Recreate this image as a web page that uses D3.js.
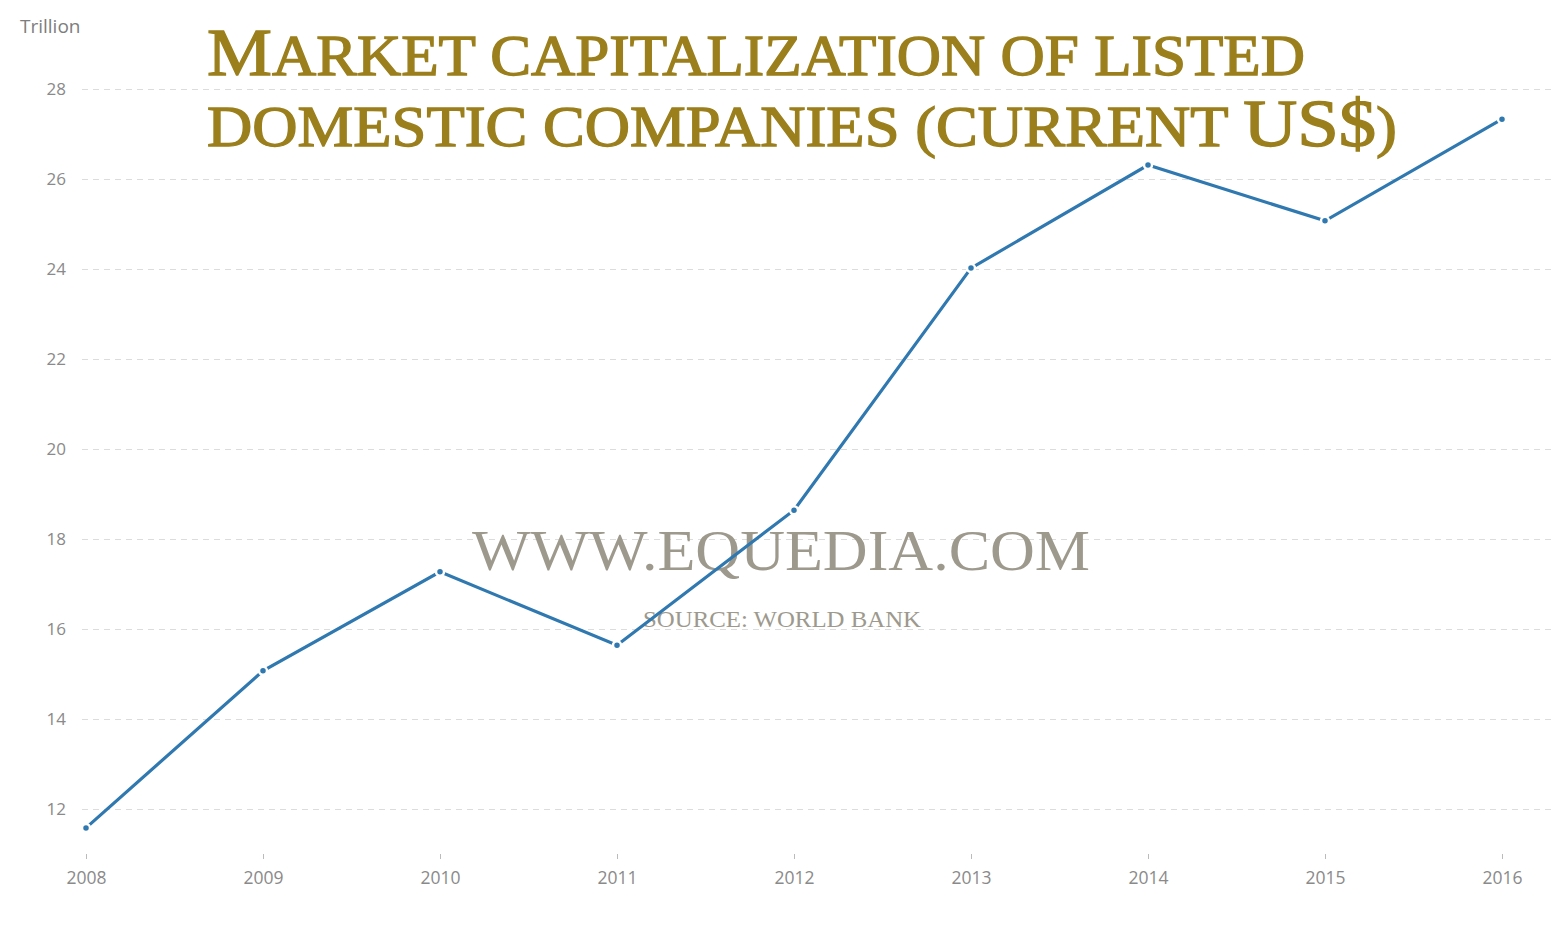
<!DOCTYPE html>
<html lang="en">
<head>
    <meta charset="UTF-8">
    <title>Market capitalization of listed domestic companies</title>
    <script src="https://cdn.jsdelivr.net/npm/d3@7"></script>
    <style>
        body{ margin:0; background:#fff; }
        .tick text{ font-family:"Open Sans", sans-serif; fill:#8a8a8a; }
    </style>
</head>
<body>
<script type="text/javascript">

    // data
    var years = ["2008","2009","2010","2011","2012","2013","2014","2015","2016"];
    var values = [11.58, 15.07, 17.27, 15.64, 18.64, 24.02, 26.31, 25.07, 27.33];
    var yTicks = [12, 14, 16, 18, 20, 22, 24, 26, 28];
    var titleLines = ["Market capitalization of listed", "domestic companies (current US$)"];

    var w = 1566, h = 930;

    var svg = d3.select("body").append("svg")
        .attr("width", w)
        .attr("height", h);

    var xScale = d3.scalePoint()
        .domain(years)
        .range([86, 1502]);

    var yScale = d3.scaleLinear()
        .domain([12, 28])
        .range([809, 89]);

    // gridlines + y labels
    var yAxis = d3.axisLeft(yScale)
        .tickValues(yTicks)
        .tickSize(-(1552 - 82))
        .tickPadding(16);

    var gy = svg.append("g")
        .attr("transform", "translate(82,0)")
        .call(yAxis);
    gy.select(".domain").remove();
    gy.selectAll(".tick line")
        .attr("stroke", "#dcdcdc")
        .attr("stroke-dasharray", "6,5");
    gy.selectAll(".tick text")
        .attr("font-size", "17px");

    // x axis
    var xAxis = d3.axisBottom(xScale)
        .tickSize(5)
        .tickPadding(13);
    var gx = svg.append("g")
        .attr("transform", "translate(0,854)")
        .call(xAxis);
    gx.select(".domain").remove();
    gx.selectAll(".tick line").attr("stroke", "#bbb");
    gx.selectAll(".tick text").attr("font-size", "17.5px");

    svg.append("text")
        .attr("x", 20)
        .attr("y", 33)
        .attr("font-family", "'Open Sans', sans-serif")
        .attr("font-size", "19px")
        .attr("fill", "#7d7d7d")
        .text("Trillion");

    // watermark
    svg.append("text")
        .attr("x", 472)
        .attr("y", 570)
        .attr("textLength", 618)
        .attr("lengthAdjust", "spacingAndGlyphs")
        .attr("font-family", "'Liberation Serif', serif")
        .attr("font-size", "57px")
        .attr("fill", "#9d998d")
        .text("WWW.EQUEDIA.COM");

    svg.append("text")
        .attr("x", 643)
        .attr("y", 627)
        .attr("textLength", 278)
        .attr("lengthAdjust", "spacingAndGlyphs")
        .attr("font-family", "'Liberation Serif', serif")
        .attr("font-size", "23px")
        .attr("fill", "#9d998d")
        .text("SOURCE: WORLD BANK");

    // line
    var line = d3.line()
        .x(function(d, i){ return xScale(years[i]); })
        .y(function(d){ return yScale(d); });

    svg.append("path")
        .datum(values)
        .attr("d", line)
        .attr("fill", "none")
        .attr("stroke", "#2f78b0")
        .attr("stroke-width", 3.2);

    svg.selectAll("circle")
        .data(values)
        .enter()
        .append("circle")
        .attr("cx", function(d, i){ return xScale(years[i]); })
        .attr("cy", function(d){ return yScale(d); })
        .attr("r", 4)
        .attr("fill", "#2f78b0")
        .attr("stroke", "#fff")
        .attr("stroke-width", 2.5);

    // title, drawn as small caps by hand
    var titleY = [75, 146];
    var titleW = [1098, 1190];
    titleLines.forEach(function(str, li){
        var t = svg.append("text")
            .attr("x", 207)
            .attr("y", titleY[li])
            .attr("textLength", titleW[li])
            .attr("lengthAdjust", "spacingAndGlyphs")
            .attr("font-family", "'Liberation Serif', serif")
            .attr("fill", "#9b7f1c")
            .attr("stroke", "#9b7f1c")
            .attr("stroke-width", 1.3);
        str.split("").forEach(function(ch){
            var big = ch !== ch.toLowerCase() || ch === "$";
            t.append("tspan")
                .attr("font-size", big ? "68px" : "57px")
                .text(ch.toUpperCase());
        });
    });

</script>
</body>
</html>
